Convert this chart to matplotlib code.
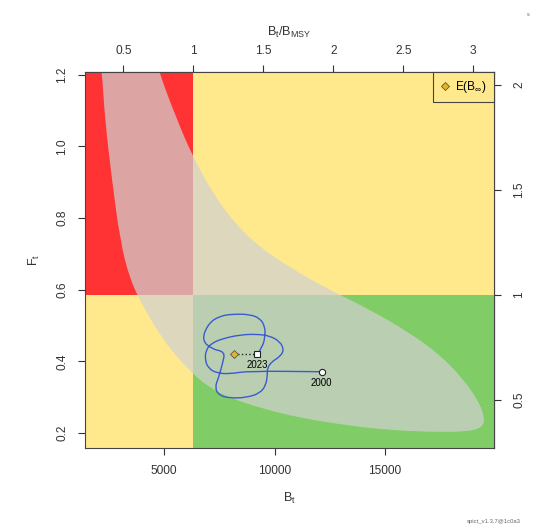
import numpy as np
import matplotlib.pyplot as plt
from matplotlib.path import Path
from matplotlib.patches import PathPatch, Rectangle

plt.rcParams['font.family'] = ['Liberation Sans', 'DejaVu Sans']
plt.rcParams['mathtext.fontset'] = 'custom'
plt.rcParams['mathtext.rm'] = 'Liberation Sans'
plt.rcParams['mathtext.it'] = 'Liberation Sans:italic'

# reference points
Bmsy = 6330
Fmsy = 0.586

# 95% region boundary, goes round clockwise
ell_B = [4366, 4774, 5498, 6358, 7534, 8892, 10702, 12512, 14322, 16132,
         17489, 18485, 19209, 19525, 19390, 18621, 17037, 15227, 13417,
         11154, 9344, 7987, 7082, 6358, 5498, 4819, 4140, 3462, 3009, 2647,
         2330, 2195, 2014]
ell_F = [1.298, 1.208, 1.088, 0.963, 0.837, 0.739, 0.661, 0.599, 0.544,
         0.479, 0.418, 0.354, 0.292, 0.242, 0.214, 0.203, 0.203, 0.208,
         0.220, 0.242, 0.270, 0.298, 0.326, 0.362, 0.418, 0.474, 0.544,
         0.627, 0.739, 0.907, 1.074, 1.208, 1.298]

# estimated trajectory 2000 -> 2023
traj_B = [12134, 8816, 7986, 7383, 7006, 6855, 6900, 7157, 7685, 8439,
          9193, 9796, 10249, 10430, 10249, 9872, 9676, 9676, 9615, 9344,
          8741, 7986, 7459, 7308, 7459, 7655, 7760, 7157, 6704, 7006, 7534,
          8137, 8891, 9344, 9570, 9570, 9465, 9223]
traj_F = [0.371, 0.373, 0.365, 0.367, 0.381, 0.404, 0.432, 0.451, 0.464,
          0.474, 0.476, 0.471, 0.455, 0.432, 0.413, 0.399, 0.381, 0.362,
          0.334, 0.311, 0.299, 0.297, 0.306, 0.328, 0.353, 0.395, 0.427,
          0.434, 0.460, 0.506, 0.527, 0.532, 0.531, 0.520, 0.497, 0.469,
          0.441, 0.420]

Binf, Finf = 8168, 0.420

xlo, xhi = 1425, 19932
ylo, yhi = 0.158, 1.208

red = '#ff3333'
yellow = '#ffe98c'
green = '#80cc66'


def smooth(xs, ys, closed=False):
    # quadratic bezier through the midpoints, points used as controls
    p = np.column_stack([xs, ys])
    n = len(p)
    if closed:
        verts = [(p[-1] + p[0]) / 2]
        codes = [Path.MOVETO]
        for i in range(n):
            verts += [p[i], (p[i] + p[(i + 1) % n]) / 2]
            codes += [Path.CURVE3, Path.CURVE3]
        verts.append(verts[0])
        codes.append(Path.CLOSEPOLY)
    else:
        verts = [p[0], (p[0] + p[1]) / 2]
        codes = [Path.MOVETO, Path.LINETO]
        for i in range(1, n - 1):
            end = p[-1] if i == n - 2 else (p[i] + p[i + 1]) / 2
            verts += [p[i], end]
            codes += [Path.CURVE3, Path.CURVE3]
    return Path(verts, codes)


fig = plt.figure(figsize=(5.55, 5.31), dpi=100)
ax = fig.add_axes([85 / 555, 1 - 448 / 531, 409 / 555, 376 / 531])

# kobe quadrants
ax.add_patch(Rectangle((xlo, Fmsy), Bmsy - xlo, yhi - Fmsy, color=red, lw=0))
ax.add_patch(Rectangle((Bmsy, Fmsy), xhi - Bmsy, yhi - Fmsy, color=yellow, lw=0))
ax.add_patch(Rectangle((xlo, ylo), Bmsy - xlo, Fmsy - ylo, color=yellow, lw=0))
ax.add_patch(Rectangle((Bmsy, ylo), xhi - Bmsy, Fmsy - ylo, color=green, lw=0))

ax.add_patch(PathPatch(smooth(ell_B, ell_F, closed=True),
                       facecolor=(0.82, 0.82, 0.82, 0.72), edgecolor='none'))

ax.add_patch(PathPatch(smooth(traj_B, traj_F), facecolor='none',
                       edgecolor='#3a5ad0', lw=1.0))

ax.plot([Binf, traj_B[-1]], [Finf, traj_F[-1]], ':', color='#222222', lw=1)
ax.plot(traj_B[0], traj_F[0], 'o', ms=4.5, mfc='white', mec='#222222', mew=0.8)
ax.plot(traj_B[-1], traj_F[-1], 's', ms=5, mfc='white', mec='#222222', mew=0.8)
ax.plot(Binf, Finf, 'D', ms=4.5, mfc='#e8b420', mec='#555555', mew=0.6,
        label=r'$\mathregular{E(B_\infty)}$')
ax.annotate('2000', (traj_B[0], traj_F[0]), xytext=(0, -10),
            textcoords='offset points', ha='center', fontsize=7)
ax.annotate('2023', (traj_B[-1], traj_F[-1]), xytext=(0, -10),
            textcoords='offset points', ha='center', fontsize=7)

ax.set_xlim(xlo, xhi)
ax.set_ylim(ylo, yhi)

fs = 8.6
ax.set_xticks([5000, 10000, 15000])
ax.set_yticks([0.2, 0.4, 0.6, 0.8, 1.0, 1.2])
ax.set_yticklabels(['0.2', '0.4', '0.6', '0.8', '1.0', '1.2'],
                   rotation=90, va='center')
ax.tick_params(labelsize=fs, length=5, width=0.8, color='#333333',
               labelcolor='#333333', pad=7)
ax.set_xlabel(r'$\mathregular{B_t}$', fontsize=fs + 0.5, labelpad=10, color='#333333')
ax.set_ylabel(r'$\mathregular{F_t}$', fontsize=fs + 0.5, labelpad=10, color='#333333')
for s in ax.spines.values():
    s.set_color('#444444')
    s.set_linewidth(0.8)

top = ax.secondary_xaxis('top', functions=(lambda b: b / Bmsy, lambda r: r * Bmsy))
top.set_xticks([0.5, 1, 1.5, 2, 2.5, 3])
top.set_xticklabels(['0.5', '1', '1.5', '2', '2.5', '3'])
top.tick_params(labelsize=fs, length=5, width=0.8, color='#333333',
                labelcolor='#333333', pad=6)
top.set_xlabel(r'$\mathregular{B_t/B_{MSY}}$', fontsize=fs + 0.5, labelpad=6,
               color='#333333')

right = ax.secondary_yaxis('right', functions=(lambda f: f / Fmsy, lambda r: r * Fmsy))
right.set_yticks([0.5, 1, 1.5, 2])
right.set_yticklabels(['0.5', '1', '1.5', '2'], rotation=90, va='center')
right.tick_params(labelsize=fs, length=5, width=0.8, color='#333333',
                  labelcolor='#333333', pad=9)

leg = ax.legend(loc='upper right', borderaxespad=0, fancybox=False,
                fontsize=fs, handlelength=0.8, handletextpad=0.5,
                borderpad=0.6, framealpha=1)
leg.get_frame().set_facecolor(yellow)
leg.get_frame().set_edgecolor('#444444')
leg.get_frame().set_linewidth(0.8)

fig.text(494 / 555, 1 - 522 / 531, 'spict_v1.3.7@1c0a3', fontsize=4.2,
         color='#666666', ha='center', va='center')
fig.text(528 / 555, 1 - 14 / 531, 's', fontsize=4, color='#666666',
         ha='center', va='center')

fig.savefig('out.png', dpi=100)
